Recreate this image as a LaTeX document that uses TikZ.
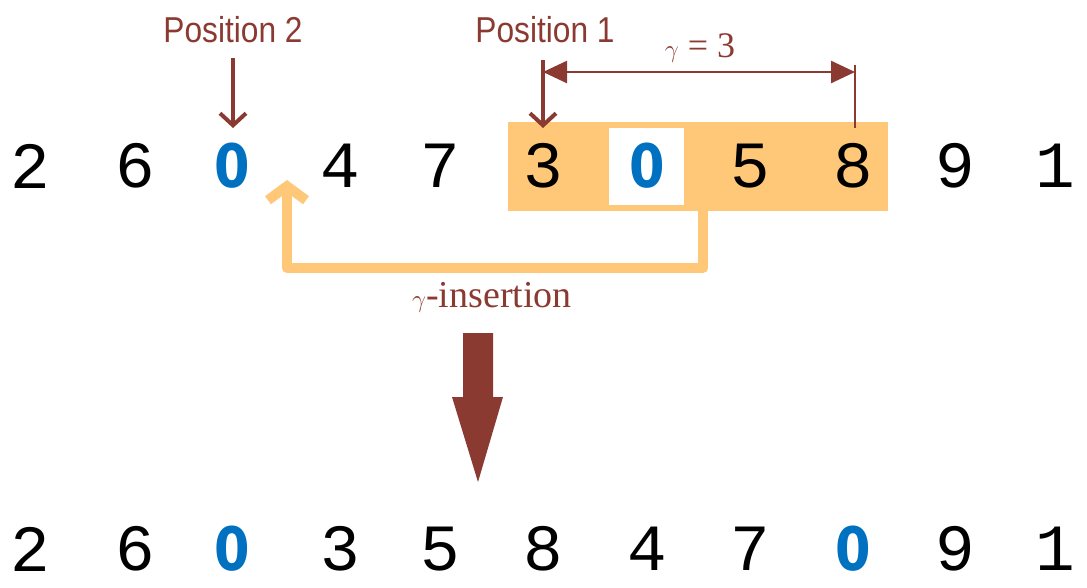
\documentclass[tikz,border=0pt]{standalone}
\usepackage{fontspec}
\setmainfont{Liberation Serif}
\newfontfamily\digf{Liberation Mono}
\newfontfamily\blf{DejaVu Sans}
\newfontfamily\labf{Liberation Sans}
\usetikzlibrary{arrows.meta}
\definecolor{dred}{HTML}{8B3A32}
\definecolor{lor}{HTML}{FFC878}
\definecolor{blu}{HTML}{0070C0}
\begin{document}
\begin{tikzpicture}[x=1pt,y=-1pt,
 dig/.style={font=\digf\fontsize{66}{66}\selectfont,inner sep=0},
 bdig/.style={font=\blf\bfseries\fontsize{60}{60}\selectfont,text=blu,inner sep=0,xscale=0.85},
 lab/.style={font=\labf\fontsize{36}{36}\selectfont,text=dred,inner sep=0,xscale=0.88}]
\useasboundingbox (0,0) rectangle (1087,587);
\fill[lor] (508,122) rectangle (888,211);
\fill[white] (609,128) rectangle (684,205);
\foreach \d/\x/\n in {2/30/a,6/135/b,4/340/d,7/440/e,3/543/f,5/750/h,8/853/i,9/955/j,1/1055/k}
  \node[dig] (r\n) at (\x,166) {\d};
\node[bdig] (rc) at (232,166) {0};
\node[bdig] (rg) at (647,166) {0};
\foreach \d/\x/\n in {2/30/a,6/135/b,3/340/d,5/440/e,8/543/f,4/647/g,7/750/h,9/955/j,1/1055/k}
  \node[dig] (s\n) at (\x,549) {\d};
\node[bdig] (sc) at (232,549) {0};
\node[bdig] (si) at (853,549) {0};
% labels
\node[lab] (p2) at (233,30) {Position 2};
\node[lab] (p1) at (545,30) {Position 1};
\draw[dred,line width=4,-{Straight Barb[length=12,width=26]}] (233,58) -- (233,128);
\draw[dred,line width=4,-{Straight Barb[length=12,width=26]}] (543,60) -- (543,128);
\coordinate (g1) at (543,72); \coordinate (g2) at (855,72);
\draw[dred,line width=2.5,{Triangle[length=24,width=22]}-{Triangle[length=24,width=22]}] (g1) -- (g2);
\draw[dred,line width=2] (855,65) -- (855,128);
\node[text=dred,font=\fontsize{36}{36}\selectfont] (gm) at (700,48) {$\gamma$ = 3};
% insertion arrow
\coordinate (ia) at (703,211);
\coordinate (ib) at (287,180);
\draw[lor,line width=10,line join=round,-{Straight Barb[length=14,width=38]}] (ia) |- (287,268) -- (ib);
\node[text=dred,font=\fontsize{38}{38}\selectfont] (ins) at (492,297) {$\gamma$-insertion};
% big arrow
\fill[dred] (463,333) -- (493,333) -- (493,397) -- (503,397) -- (478,482) -- (452,397) -- (463,397) -- cycle;
\end{tikzpicture}
\end{document}
